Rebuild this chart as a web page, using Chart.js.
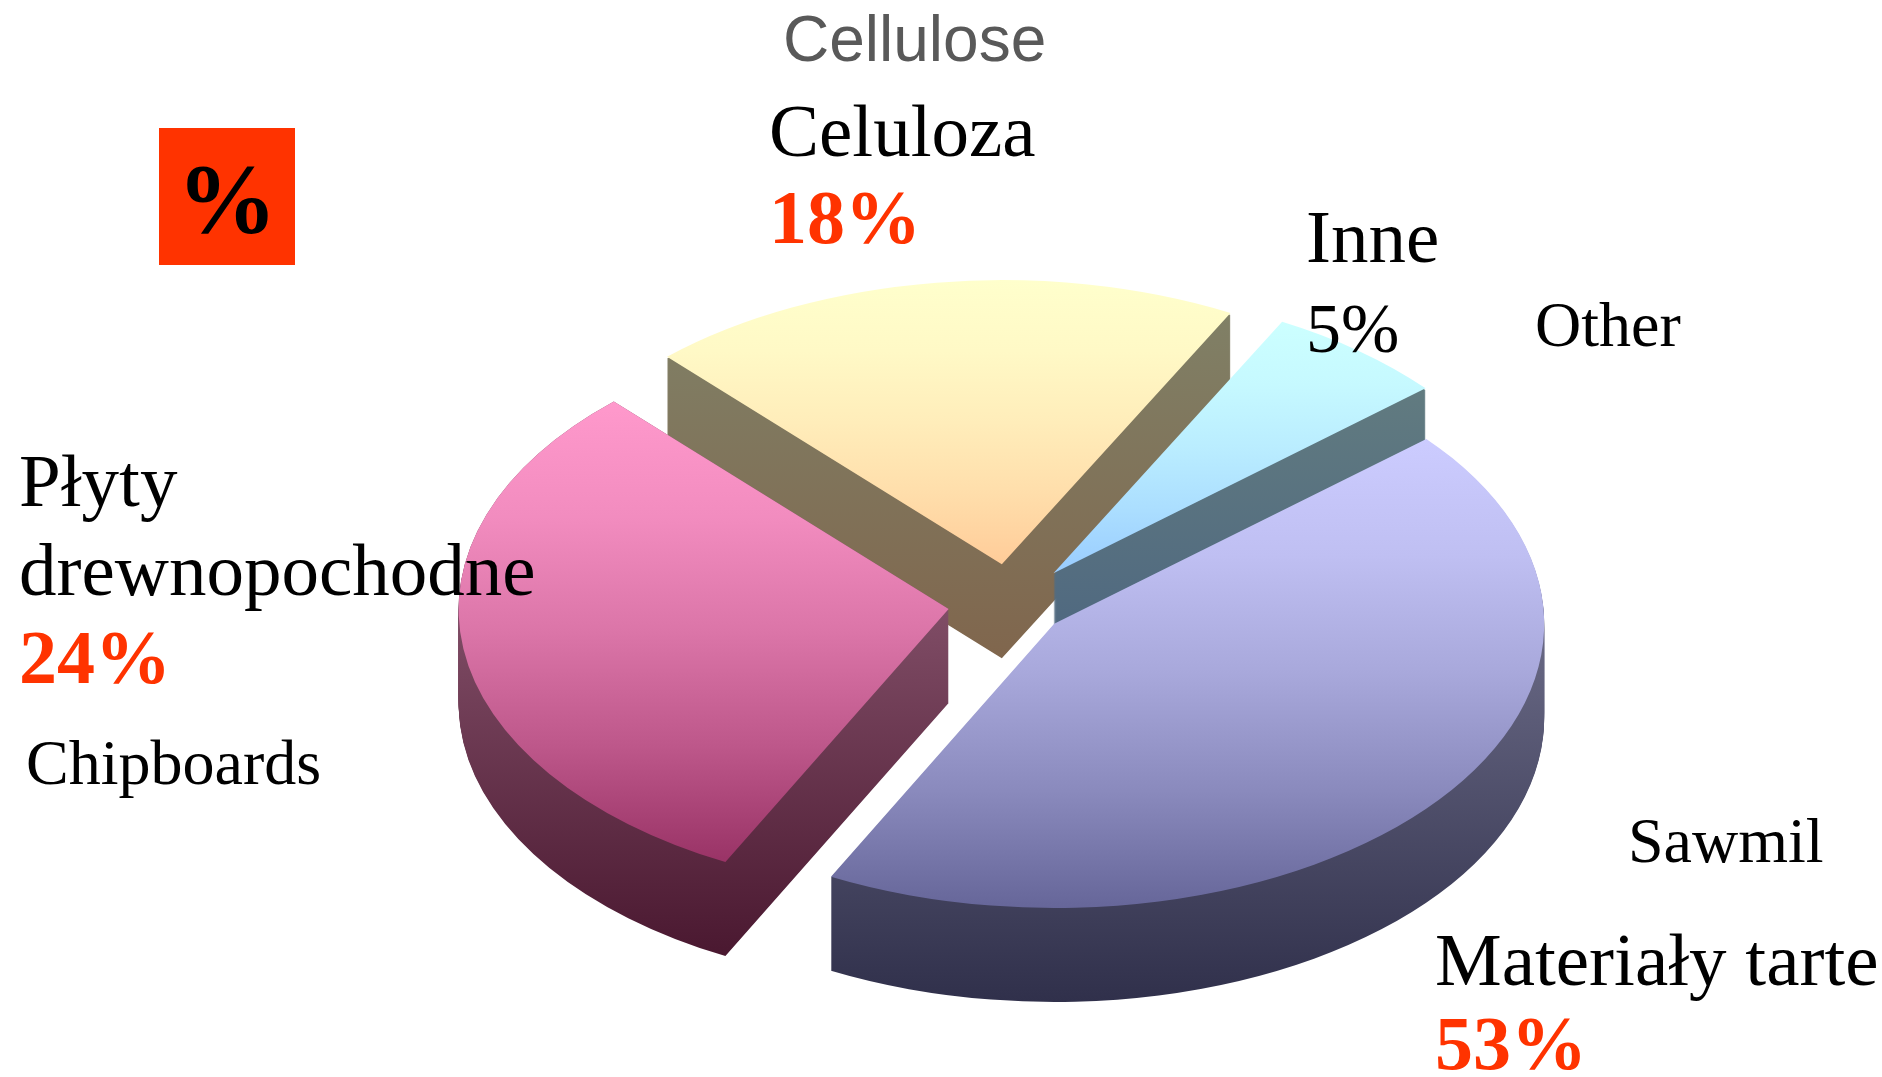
<!DOCTYPE html>
<html>
<head>
<meta charset="utf-8">
<title>Celuloza</title>
<script src="https://cdn.jsdelivr.net/npm/chart.js@4/dist/chart.umd.min.js"></script>
<style>
  html, body { margin: 0; padding: 0; background: #fff; overflow: hidden; }
  canvas { display: block; }
</style>
</head>
<body>
<canvas id="grafico" width="1882" height="1077"></canvas>
<script>
// Categories, clockwise from the Celuloza slice
const kategorie = ['Celuloza', 'Inne', 'Materiały tarte', 'Płyty drewnopochodne'];
const kategorieEn = ['Cellulose', 'Other', 'Sawmil', 'Chipboards'];
// Printed percentages
const procenty = ['18%', '5%', '53%', '24%'];
// Slice sizes as they are drawn in the picture (they do not follow the printed numbers)
const udzialy = [19.7, 6.0, 43.8, 30.5];

// Styles of the slices
const koloryGora = ['#ffffcc', '#ccffff', '#ccccff', '#ff99cc'];
const koloryDol = ['#ffcc99', '#99ccff', '#666699', '#993366'];
const koloryBokGora = ['#808066', '#668080', '#6a6a86', '#804d66'];
const koloryBokDol = ['#80664d', '#4d6680', '#30304b', '#4a1830'];
const wysuniecie = [69, 68, 55, 63];
const szczelina = [2, 2, 1, 0];
const kolejnosc = [0, 1, 3, 2]; // back slices first

const splaszczenie = 0.58;
const glebokosc = 94;
const srodekX = 1011;
const srodekY = 604;

function zawiera(arc, kat) {
  // is this angle (or a full turn away) inside the slice
  for (let a = kat - Math.PI * 2; a < Math.PI * 4; a += Math.PI * 2) {
    if (a > arc.startAngle && a < arc.endAngle) return true;
  }
  return false;
}

function zakresY(arc) {
  // vertical range of a slice and where its front wall starts
  const r = arc.outerRadius;
  const grot = Math.min(Math.sin(arc.startAngle), Math.sin(arc.endAngle));
  const boczny = zawiera(arc, 0) || zawiera(arc, Math.PI);
  return {
    gora: arc.y + r * (zawiera(arc, -Math.PI / 2) ? -1 : Math.min(0, grot)),
    dol: arc.y + r * (zawiera(arc, Math.PI / 2) ? 1 : Math.max(0, Math.sin(arc.startAngle), Math.sin(arc.endAngle))),
    bokGora: boczny ? arc.y : arc.y + r * grot
  };
}

function hexNaRgb(hex) {
  return [1, 3, 5].map(function (i) { return parseInt(hex.substr(i, 2), 16); });
}

function gradientLiniowy(ctx, y0, y1, c0, c1) {
  const g = ctx.createLinearGradient(0, y0, 0, y1);
  g.addColorStop(0, c0);
  g.addColorStop(1, c1);
  return g;
}

// Top faces stay light for longer, so the colour runs along f^1.5
function gradientGory(ctx, y0, y1, c0, c1) {
  const g = ctx.createLinearGradient(0, y0, 0, y1);
  const a = hexNaRgb(c0);
  const b = hexNaRgb(c1);
  [0, 0.25, 0.5, 0.75, 1].forEach(function (f) {
    const t = Math.pow(f, 1.5);
    const kol = a.map(function (v, i) { return Math.round(v + (b[i] - v) * t); });
    g.addColorStop(f, 'rgb(' + kol.join(',') + ')');
  });
  return g;
}

function rysujZKolorem(arc, ctx, kolor) {
  const opcje = arc.options;
  arc.options = Object.assign({}, opcje, { backgroundColor: kolor, borderWidth: 0 });
  arc.draw(ctx);
  arc.options = opcje;
}

// Draws the pie flattened, each slice pulled out with its side wall under it
const pie3d = {
  id: 'pie3d',
  beforeDatasetsDraw(chart) {
    const ctx = chart.ctx;
    const arcs = chart.getDatasetMeta(0).data;
    const glebLok = glebokosc / splaszczenie;

    ctx.save();
    ctx.translate(srodekX, srodekY);
    ctx.scale(1, splaszczenie);
    ctx.translate(-arcs[0].x, -arcs[0].y);

    kolejnosc.forEach(function (i) {
      const arc = arcs[i];
      const zakres = zakresY(arc);
      const pol = (arc.startAngle + arc.endAngle) / 2;

      ctx.save();
      ctx.translate(Math.cos(pol) * wysuniecie[i], Math.sin(pol) * wysuniecie[i]);

      // side wall: stacked copies of the slice, from the bottom up
      for (let d = glebokosc; d >= szczelina[i]; d--) {
        const dl = d / splaszczenie;
        ctx.save();
        ctx.translate(0, dl);
        rysujZKolorem(arc, ctx, gradientLiniowy(ctx, zakres.bokGora - dl, zakres.dol + glebLok - dl, koloryBokGora[i], koloryBokDol[i]));
        ctx.restore();
      }

      rysujZKolorem(arc, ctx, gradientGory(ctx, zakres.gora, zakres.dol, koloryGora[i], koloryDol[i]));
      ctx.restore();
    });

    ctx.restore();
    return false;
  }
};

const serif = '"Liberation Serif", "Times New Roman", serif';
const sans = '"Liberation Sans", Arial, sans-serif';
const pomaranczowy = '#ff3300';

function tekst(ctx, t, x, y, font, kolor) {
  ctx.font = font;
  ctx.fillStyle = kolor;
  ctx.fillText(t, x, y);
}

const opisy = {
  id: 'opisy',
  afterDraw(chart) {
    const ctx = chart.ctx;
    ctx.save();
    ctx.textAlign = 'left';
    ctx.textBaseline = 'alphabetic';

    ctx.fillStyle = pomaranczowy;
    ctx.fillRect(159, 128, 136, 137);
    tekst(ctx, '%', 177, 232, 'bold 100px ' + serif, '#000');

    tekst(ctx, kategorieEn[0], 783, 61, '64px ' + sans, '#595959');
    tekst(ctx, kategorie[0], 769, 156, '75px ' + serif, '#000');
    tekst(ctx, procenty[0], 769, 243, 'bold 76px ' + serif, pomaranczowy);

    tekst(ctx, kategorie[1], 1306, 262, '75px ' + serif, '#000');
    tekst(ctx, procenty[1], 1306, 352, '70px ' + serif, '#000');
    tekst(ctx, kategorieEn[1], 1535, 346, '64px ' + serif, '#000');

    const plyty = kategorie[3].split(' ');
    tekst(ctx, plyty[0], 19, 506, '75px ' + serif, '#000');
    tekst(ctx, plyty[1], 19, 595, '75px ' + serif, '#000');
    tekst(ctx, procenty[3], 19, 683, 'bold 76px ' + serif, pomaranczowy);
    tekst(ctx, kategorieEn[3], 26, 784, '64px ' + serif, '#000');

    tekst(ctx, kategorieEn[2], 1628, 862, '64px ' + serif, '#000');
    tekst(ctx, kategorie[2], 1435, 985, '75px ' + serif, '#000');
    tekst(ctx, procenty[2], 1435, 1069, 'bold 76px ' + serif, pomaranczowy);

    ctx.restore();
  }
};

new Chart(document.getElementById('grafico'), {
  type: 'pie',
  data: {
    labels: kategorie,
    datasets: [{
      data: udzialy,
      backgroundColor: koloryGora,
      borderWidth: 0
    }]
  },
  options: {
    responsive: false,
    animation: false,
    events: [],
    radius: 490,
    rotation: -43.1,
    plugins: {
      legend: { display: false },
      tooltip: { enabled: false }
    }
  },
  plugins: [pie3d, opisy]
});
</script>
</body>
</html>
